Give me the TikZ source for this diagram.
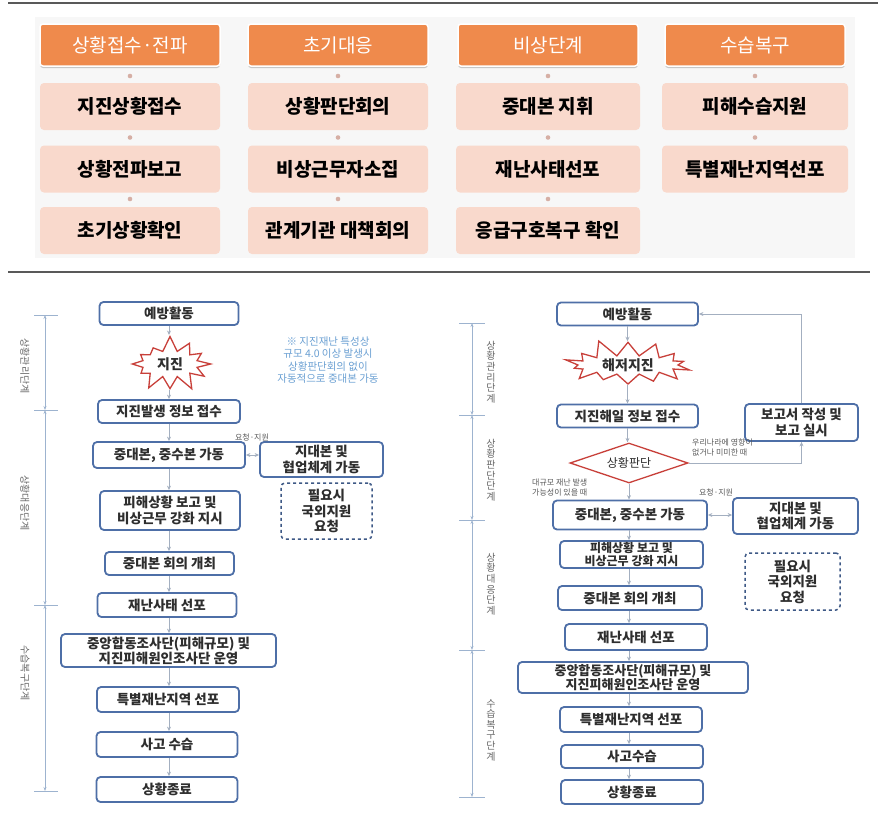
\documentclass[tikz,border=0pt]{standalone}
\usepackage{fontspec}
\setmainfont{Noto Sans CJK KR}
\usetikzlibrary{arrows.meta,shapes.geometric,shapes.symbols,shadows}
\definecolor{hdrc}{HTML}{EF8A4C}
\definecolor{pinkc}{HTML}{F9D9CC}
\definecolor{dotc}{HTML}{D6AFA5}
\definecolor{bluec}{HTML}{4E6FA7}
\definecolor{arrc}{HTML}{A3AFC0}
\definecolor{redc}{HTML}{C8403A}
\definecolor{notec}{HTML}{6A9FD2}
\definecolor{phc}{HTML}{9DB3CF}
\definecolor{txtc}{HTML}{2E2E2E}
\definecolor{panelc}{HTML}{F7F7F7}
\begin{document}
\begin{tikzpicture}[x=1pt,y=-1pt,
  hdrbox/.style={rectangle, rounded corners=3pt, fill=hdrc, draw=white, line width=1.5pt, text=white,
    font=\fontsize{19}{22}\selectfont, inner sep=0pt, minimum width=180pt, minimum height=42pt,
    drop shadow={shadow xshift=0pt, shadow yshift=-2pt, fill=black!40, opacity=0.5}},
  pinkbox/.style={rectangle, rounded corners=4pt, fill=pinkc, inner sep=0pt, minimum width=180pt,
    minimum height=47pt, font=\bfseries\fontsize{19}{22}\selectfont, text=black},
  flowbox/.style={rectangle, rounded corners=4pt, draw=bluec, line width=1.8pt, fill=white, align=center,
    inner sep=0pt, font=\bfseries\fontsize{13.5}{16}\selectfont, text=txtc},
  dashbox/.style={flowbox, dashed, draw=bluec!80!black, line width=1.5pt},
  arr/.style={draw=arrc, line width=0.9pt, -{Stealth[length=4.5pt,width=4pt]}},
  darr/.style={draw=arrc, line width=0.9pt, {Stealth[length=4.5pt,width=4pt]}-{Stealth[length=4.5pt,width=4pt]}},
  phase/.style={draw=phc, line width=0.8pt, {Stealth[length=4pt,width=3pt]}-{Stealth[length=4pt,width=3pt]}},
  tickline/.style={draw=phc, line width=0.8pt},
  phlabel/.style={font=\fontsize{10}{10.6}\selectfont, text=black!60, align=center, inner sep=0pt},
  note/.style={text=notec, font=\fontsize{10.5}{12.5}\selectfont, align=center, inner sep=0pt},
  small/.style={font=\fontsize{8}{10}\selectfont, text=black!65, align=left, inner sep=0pt},
  burst/.style={starburst, draw=redc, line width=1.3pt, fill=white, inner sep=0pt,
    font=\bfseries\fontsize{14}{16}\selectfont, text=txtc}
]
\useasboundingbox (0,0) rectangle (878,822);

% separators and panel
\coordinate (s1a) at (8,3); \coordinate (s1b) at (878,3);
\coordinate (s2a) at (8,272); \coordinate (s2b) at (870,272);
\draw[black!65, line width=1.2pt] (s1a) -- (s1b);
\draw[black!65, line width=1.2pt] (s2a) -- (s2b);
\fill[panelc] (35,17) rectangle (855,258);

% ---------- top table ----------
\foreach \cx/\hd [count=\i] in {130/상황접수·전파, 338/초기대응, 548/비상단계, 755/수습복구}{
  \node[hdrbox] (h\i) at (\cx,45) {\hd};
}
\node[pinkbox] (a1) at (130,106.5) {지진상황접수};
\node[pinkbox] (a2) at (130,169) {상황전파보고};
\node[pinkbox] (a3) at (130,230.5) {초기상황확인};
\node[pinkbox] (b1) at (338,106.5) {상황판단회의};
\node[pinkbox] (b2) at (338,169) {비상근무자소집};
\node[pinkbox] (b3) at (338,230.5) {관계기관 대책회의};
\node[pinkbox, minimum width=184pt] (c1) at (548,106.5) {중대본 지휘};
\node[pinkbox, minimum width=184pt] (c2) at (548,169) {재난사태선포};
\node[pinkbox, minimum width=184pt] (c3) at (548,230.5) {응급구호복구 확인};
\node[pinkbox, minimum width=186pt] (d1) at (755,106.5) {피해수습지원};
\node[pinkbox, minimum width=186pt] (d2) at (755,169) {특별재난지역선포};
\foreach \cx in {130,338,548,755}{
  \fill[dotc] (\cx,76) circle (2.3);
  \fill[dotc] (\cx,137.5) circle (2.3);
}
\foreach \cx in {130,338,548}{
  \fill[dotc] (\cx,199) circle (2.3);
}

% ---------- left flowchart ----------
\coordinate (lp1) at (45,315); \coordinate (lp2) at (45,410);
\coordinate (lp3) at (45,605); \coordinate (lp4) at (45,791);
\draw[phase] (lp1) -- (lp2);
\draw[phase] (lp2) -- (lp3);
\draw[phase] (lp3) -- (lp4);
\foreach \p in {lp1,lp2,lp3,lp4}{
  \draw[tickline] ([xshift=-11pt]\p) -- ([xshift=13pt]\p);
}
\node[phlabel, rotate=-90] (ll1) at (25,366) {상황관리단계};
\node[phlabel, rotate=-90] (ll2) at (25,503) {상황대응단계};
\node[phlabel, rotate=-90] (ll3) at (25,673) {수습복구단계};

\node[flowbox, minimum width=139pt, minimum height=23pt] (L1) at (169,313.5) {예방활동};
\node[burst, minimum width=88pt, minimum height=58pt, starburst points=12, starburst point height=16pt, random starburst=7] (Ls) at (170,364) {지진};
\node[flowbox, minimum width=142pt, minimum height=23pt] (L2) at (169,411.5) {지진발생 정보 접수};
\node[flowbox, minimum width=152pt, minimum height=26pt] (L3) at (169,455) {중대본, 중수본 가동};
\node[flowbox, minimum width=123pt, minimum height=35pt, font=\bfseries\fontsize{13.5}{15.5}\selectfont] (Lr) at (321.5,459.5) {지대본 및\\협업체계 가동};
\node[dashbox, minimum width=91pt, minimum height=56pt, font=\bfseries\fontsize{13.5}{15.5}\selectfont] (Ld) at (326.5,511) {필요시\\국외지원\\요청};
\node[flowbox, minimum width=140pt, minimum height=39pt, font=\bfseries\fontsize{13.5}{15.5}\selectfont] (L4) at (170,510.5) {피해상황 보고 및\\비상근무 강화 지시};
\node[flowbox, minimum width=129pt, minimum height=23pt] (L5) at (169.5,563.5) {중대본 회의 개최};
\node[flowbox, minimum width=139pt, minimum height=24pt] (L6) at (167,605) {재난사태 선포};
\node[flowbox, minimum width=215pt, minimum height=33pt, font=\bfseries\fontsize{13.5}{15}\selectfont] (L7) at (168.5,650.5) {중앙합동조사단(피해규모) 및\\지진피해원인조사단 운영};
\node[flowbox, minimum width=142pt, minimum height=25pt] (L8) at (168,699.5) {특별재난지역 선포};
\node[flowbox, minimum width=141pt, minimum height=25pt] (L9) at (167,744.5) {사고 수습};
\node[flowbox, minimum width=141pt, minimum height=25pt] (L10) at (167,789.5) {상황종료};

\node[note] (Lnote) at (328,360) {※ 지진재난 특성상\\규모 4.0 이상 발생시\\상황판단회의 없이\\자동적으로 중대본 가동};
\node[small] (Lreq) at (252,437) {요청·지원};

\draw[arr] (L1.south) -- (L1.south |- Ls.north);
\draw[arr] (L1.south |- Ls.south) -- (L1.south |- L2.north);
\draw[arr] (L2.south) -- (L2.south |- L3.north);
\draw[arr] (L3.south) -- (L3.south |- L4.north);
\draw[arr] (L3.south |- L4.south) -- (L3.south |- L5.north);
\draw[arr] (L3.south |- L5.south) -- (L3.south |- L6.north);
\draw[arr] (L3.south |- L6.south) -- (L3.south |- L7.north);
\draw[arr] (L3.south |- L7.south) -- (L3.south |- L8.north);
\draw[arr] (L3.south |- L8.south) -- (L3.south |- L9.north);
\draw[arr] (L3.south |- L9.south) -- (L3.south |- L10.north);
\draw[darr] (L3.east) -- (L3.east -| Lr.west);

% ---------- right flowchart ----------
\coordinate (rp1) at (472,323); \coordinate (rp2) at (472,415);
\coordinate (rp3) at (472,520); \coordinate (rp4) at (472,650);
\coordinate (rp5) at (472,797);
\draw[phase] (rp1) -- (rp2);
\draw[phase] (rp2) -- (rp3);
\draw[phase] (rp3) -- (rp4);
\draw[phase] (rp4) -- (rp5);
\foreach \p in {rp1,rp2,rp3,rp4,rp5}{
  \draw[tickline] ([xshift=-13pt]\p) -- ([xshift=13pt]\p);
}
\node[phlabel] (rl1) at (491,372) {상\\황\\관\\리\\단\\계};
\node[phlabel] (rl2) at (491,470) {상\\황\\판\\단\\단\\계};
\node[phlabel] (rl3) at (491,584) {상\\황\\대\\응\\단\\계};
\node[phlabel] (rl4) at (491,730) {수\\습\\복\\구\\단\\계};

\node[flowbox, minimum width=141pt, minimum height=23pt] (R1) at (627.5,314) {예방활동};
\node[burst, minimum width=136pt, minimum height=54pt, starburst points=14, starburst point height=18pt, random starburst=11] (Rs) at (628,365) {해저지진};
\node[flowbox, minimum width=141pt, minimum height=23pt] (R2) at (627.5,416) {지진해일 정보 접수};
\node[flowbox, minimum width=113pt, minimum height=37pt, font=\bfseries\fontsize{13.5}{15.5}\selectfont] (Rrep) at (801.5,422.5) {보고서 작성 및\\보고 실시};
\node[diamond, draw=redc, line width=1.3pt, fill=white, minimum width=118pt, minimum height=40pt, aspect=3, inner sep=0pt, font=\fontsize{12}{14}\selectfont, text=txtc] (Rd) at (629,463) {상황판단};
\node[flowbox, minimum width=154pt, minimum height=29pt] (R3) at (630,515) {중대본, 중수본 가동};
\node[flowbox, minimum width=125pt, minimum height=36pt, font=\bfseries\fontsize{13.5}{15.5}\selectfont] (Rr) at (795.5,516) {지대본 및\\협업체계 가동};
\node[flowbox, minimum width=143pt, minimum height=27pt, font=\bfseries\fontsize{12}{13}\selectfont] (R4) at (631.5,554.5) {피해상황 보고 및\\비상근무 강화 지시};
\node[dashbox, minimum width=95pt, minimum height=57pt, font=\bfseries\fontsize{13.5}{15.5}\selectfont] (Rdash) at (792.5,581.5) {필요시\\국외지원\\요청};
\node[flowbox, minimum width=144pt, minimum height=24pt] (R5) at (630,598) {중대본 회의 개최};
\node[flowbox, minimum width=142pt, minimum height=26pt] (R6) at (636,637) {재난사태 선포};
\node[flowbox, minimum width=230pt, minimum height=31pt, font=\bfseries\fontsize{13}{14.5}\selectfont] (R7) at (633,677.5) {중앙합동조사단(피해규모) 및\\지진피해원인조사단 운영};
\node[flowbox, minimum width=142pt, minimum height=25pt] (R8) at (631,719.5) {특별재난지역 선포};
\node[flowbox, minimum width=142pt, minimum height=23pt] (R9) at (632,756.5) {사고수습};
\node[flowbox, minimum width=142pt, minimum height=24pt] (R10) at (632,792) {상황종료};

\node[small, anchor=north west] (Rno) at (692,439) {우리나라에 영향이\\없거나 미미한 때};
\node[small, anchor=north west] (Ryes) at (532,479) {대규모 재난 발생\\가능성이 있을 때};
\node[small] (Rreq) at (716,492) {요청·지원};

\draw[arr] (R1.south) -- (R1.south |- Rs.north);
\draw[arr] (R1.south |- Rs.south) -- (R1.south |- R2.north);
\draw[arr] (R2.south) -- (R2.south |- Rd.north);
\draw[arr] (Rd.south) -- (Rd.south |- R3.north);
\draw[arr] (Rd.south |- R3.south) -- (Rd.south |- R4.north);
\draw[arr] (Rd.south |- R4.south) -- (Rd.south |- R5.north);
\draw[arr] (Rd.south |- R5.south) -- (Rd.south |- R6.north);
\draw[arr] (Rd.south |- R6.south) -- (Rd.south |- R7.north);
\draw[arr] (Rd.south |- R7.south) -- (Rd.south |- R8.north);
\draw[arr] (Rd.south |- R8.south) -- (Rd.south |- R9.north);
\draw[arr] (Rd.south |- R9.south) -- (Rd.south |- R10.north);
\draw[darr] (R3.east) -- (R3.east -| Rr.west);
\draw[arr] (Rd.east) -| (Rrep.south);
\draw[arr] (Rrep.north) |- (R1.east);
\end{tikzpicture}
\end{document}
